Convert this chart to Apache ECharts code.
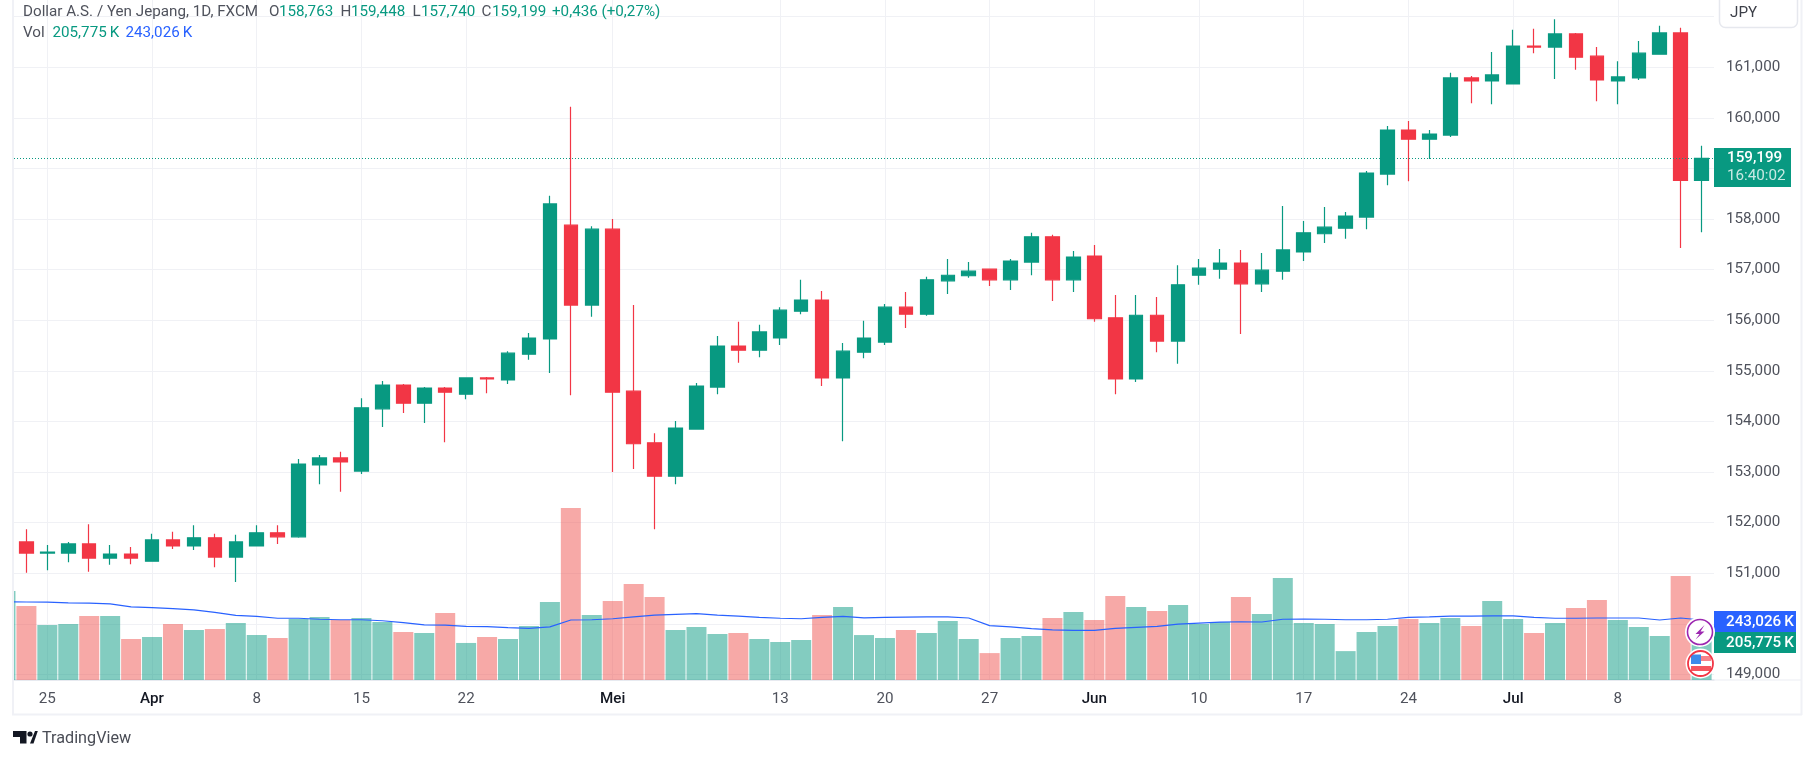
<!DOCTYPE html>
<html><head><meta charset="utf-8">
<style>html,body{margin:0;padding:0;background:#fff}#c{width:1814px;height:759px}</style>
<script src="https://cdn.jsdelivr.net/npm/echarts@6/dist/echarts.min.js"></script>
</head><body><div id="c"></div>
<script>
// [open, close, low, high], one row per trading day (22 Mar - 12 Jul)
const candles = [
[151.62,151.40,151.01,151.87],[151.40,151.42,151.06,151.56],[151.40,151.58,151.22,151.62],[151.58,151.30,151.03,151.97],
[151.30,151.38,151.17,151.56],[151.38,151.30,151.18,151.52],[151.24,151.66,151.24,151.78],[151.66,151.54,151.48,151.82],
[151.54,151.70,151.46,151.95],[151.70,151.32,151.12,151.78],[151.32,151.62,150.83,151.76],[151.54,151.80,151.54,151.95],
[151.80,151.72,151.58,151.95],[151.72,153.16,151.70,153.26],[153.14,153.28,152.76,153.34],[153.28,153.20,152.61,153.40],
[153.02,154.27,152.96,154.46],[154.25,154.72,153.89,154.80],[154.72,154.36,154.17,154.74],[154.36,154.66,153.97,154.68],
[154.66,154.58,153.59,154.68],[154.54,154.86,154.44,154.86],[154.86,154.84,154.56,154.88],[154.82,155.35,154.74,155.39],
[155.33,155.65,155.22,155.75],[155.63,158.30,154.96,158.46],[157.88,156.30,154.52,160.22],[156.30,157.80,156.07,157.86],
[157.80,154.58,153.00,158.00],[154.60,153.56,153.06,156.30],[153.58,152.92,151.87,153.77],[152.92,153.87,152.76,154.01],
[153.85,154.70,153.85,154.76],[154.68,155.49,154.54,155.69],[155.49,155.41,155.16,155.97],[155.41,155.77,155.27,155.91],
[155.65,156.20,155.51,156.26],[156.18,156.40,156.12,156.80],[156.40,154.86,154.70,156.58],[154.86,155.39,153.61,155.55],
[155.37,155.65,155.25,155.99],[155.57,156.26,155.51,156.32],[156.26,156.12,155.85,156.56],[156.12,156.80,156.09,156.86],
[156.78,156.89,156.52,157.21],[156.88,156.97,156.84,157.15],[157.01,156.80,156.68,157.01],[156.80,157.17,156.60,157.21],
[157.15,157.65,156.89,157.73],[157.65,156.80,156.38,157.69],[156.80,157.25,156.56,157.37],[157.27,156.03,155.97,157.49],
[156.05,154.84,154.54,156.50],[154.84,156.10,154.78,156.50],[156.10,155.59,155.37,156.46],[155.59,156.70,155.14,157.09],
[156.89,157.03,156.70,157.21],[157.01,157.13,156.82,157.41],[157.13,156.72,155.73,157.39],[156.72,156.99,156.56,157.33],
[156.97,157.39,156.80,158.26],[157.35,157.73,157.17,157.96],[157.71,157.84,157.53,158.24],[157.82,158.06,157.61,158.14],
[158.04,158.91,157.80,158.95],[158.89,159.76,158.67,159.84],[159.76,159.58,158.75,159.94],[159.58,159.68,159.19,159.76],
[159.66,160.79,159.62,160.89],[160.79,160.73,160.29,160.83],[160.73,160.85,160.27,161.30],[160.67,161.42,160.67,161.74],
[161.42,161.40,161.28,161.76],[161.40,161.66,160.77,161.95],[161.66,161.20,160.95,161.68],[161.22,160.75,160.33,161.40],
[160.73,160.81,160.27,161.12],[160.79,161.28,160.75,161.52],[161.26,161.68,161.26,161.82],[161.68,158.763,157.43,161.78],
[158.763,159.199,157.74,159.448]];
// thousands; the first entry belongs to the day before the first candle, cut by the pane edge
const volumes = [360,300,223,227,259,259,166,174,227,203,207,231,182,170,247,255,243,251,235,194,190,271,150,174,166,219,316,697,263,320,389,336,203,215,186,190,166,154,162,263,296,182,170,203,190,239,166,109,170,178,251,275,243,340,296,279,304,227,235,336,267,413,231,227,117,194,219,247,231,251,219,320,247,190,231,292,324,243,215,178,421,205.775];
const volumeMA = [317,316,315,312,311,308,296,293,289,284,274,262,258,250,250,246,244,244,240,232,223,222,217,216,212,209,215,243,244,248,256,263,266,269,263,259,254,250,248,254,258,252,254,255,256,256,251,220,215,208,203,201,201,209,213,217,226,230,234,236,235,246,247,246,244,244,246,254,256,259,259,260,260,254,250,250,251,251,251,243,251,243.026];
const dateTicks = [1,6,11,16,21,28,36,41,46,51,56,61,66,71,76];
const dateLabels = ['25','Apr','8','15','22','Mei','13','20','27','Jun','10','17','24','Jul','8'];
const monthLabels = ['Apr','Mei','Jun','Jul'];
const priceTicks = [149,150,151,152,153,154,155,156,157,158,159,160,161,162];
const priceLabels = [149,150,151,152,153,154,155,156,157,158,159,160,161];
const lastPrice = 159.199;
const countdown = '16:40:02';
const volumeText = '205,775\u2009K';
const maText = '243,026\u2009K';
const legendRow1 = [['Dollar A.S. / Yen Jepang, 1D, FXCM',23,'g'],['O',269,'g'],['158,763',279,'u'],['H',340.5,'g'],['159,448',351,'u'],['L',412.5,'g'],['157,740',421,'u'],['C',481.5,'g'],['159,199',492,'u'],['+0,436 (+0,27%)',552,'u']];
const legendRow2 = [['Vol',23,'g'],[volumeText,52.5,'u'],[maText,125.5,'b']];

const UP='#089981', DOWN='#F23645', BLUE='#2962FF', GREY='#4f525c', FONT='Roboto', FS=15.2;
const fmt = v => v.toFixed(3).replace('.',',');
const chart = echarts.init(document.getElementById('c'),null,{renderer:'canvas'});
const grid = {left:14,right:100,top:0,bottom:79};

chart.setOption({
  animation:false, backgroundColor:'#fff',
  grid,
  xAxis:{type:'value',min:-0.592,max:80.592,
    axisLine:{lineStyle:{color:'#e0e3eb',width:1.5}},
    axisTick:{show:false,customValues:dateTicks},
    splitLine:{show:true,lineStyle:{color:'#f0f1f5',width:1}},
    axisLabel:{customValues:dateTicks,margin:12,fontFamily:FONT,fontSize:FS,color:GREY,
      formatter:v=>{const s=dateLabels[dateTicks.indexOf(v)];return monthLabels.includes(s)?'{m|'+s+'}':s;},
      rich:{m:{fontFamily:FONT,fontSize:FS,fontWeight:500,color:'#131722'}}}},
  yAxis:[
    {type:'value',position:'right',min:148.891,max:162.33,
     axisLine:{show:false},axisTick:{show:false,customValues:priceTicks},
     splitLine:{show:true,lineStyle:{color:'#f0f1f5',width:1}},
     axisLabel:{customValues:priceLabels,margin:12,fontFamily:FONT,fontSize:FS,color:GREY,
       formatter:v=>fmt(v)}},
    {type:'value',min:0,max:2754,show:false,splitLine:{show:false}}
  ],
  series:[
    {type:'bar',yAxisIndex:1,barWidth:20,z:2,silent:true,
     data:volumes.map((v,i)=>{
       const c=candles[i-1];const up=!c||c[1]>=c[0];
       return {value:[i-1,v],itemStyle:{color:up?'rgba(8,153,129,0.5)':'rgba(239,83,80,0.5)'}};
     })},
    {type:'line',yAxisIndex:1,z:3,showSymbol:false,silent:true,
     lineStyle:{color:BLUE,width:1.2},
     data:volumeMA.map((v,i)=>[i-1,v])},
    {type:'candlestick',z:4,barWidth:14,silent:true,
     itemStyle:{color:UP,color0:DOWN,borderColor:UP,borderColor0:DOWN,borderWidth:1.2},
     data:candles.map((c,i)=>[i,c[0],c[1],c[2],c[3]]),
     markLine:{silent:true,symbol:'none',label:{show:false},animation:false,
       lineStyle:{color:UP,type:[1,2],width:1},
       data:[{yAxis:lastPrice}]}}
  ]
});

const py = chart.convertToPixel({yAxisIndex:0},lastPrice);
const legendText=(row,y)=>row.map(([t,x,k])=>({type:'text',x,y,z:20,style:{text:t,fontFamily:FONT,fontSize:FS,
  fill:k==='g'?GREY:k==='u'?UP:BLUE,verticalAlign:'middle'}}));
const tag=(y0,h,fill)=>({type:'rect',shape:{x:1714,y:y0,width:82,height:h},z:20,style:{fill}});
const label=(t,x,y,fill,w)=>({type:'text',x,y,z:21,style:{text:t,fontFamily:FONT,fontSize:FS,fontWeight:w||400,fill,verticalAlign:'middle'}});

chart.setOption({graphic:{elements:[
  // frame
  {type:'rect',shape:{x:0,y:0,width:12.5,height:759},z:15,style:{fill:'#fff'}},
  {type:'rect',shape:{x:12,y:0,width:2,height:715},z:16,style:{fill:'#f0f1f6'}},
  {type:'rect',shape:{x:12,y:713.5,width:1790,height:2},z:16,style:{fill:'#f0f1f6'}},
  {type:'rect',shape:{x:1800.5,y:0,width:2,height:715},z:16,style:{fill:'#f0f1f6'}},
  {type:'rect',shape:{x:1714,y:679.5,width:87,height:1},z:16,style:{fill:'#eceef3'}},
  // JPY
  {type:'rect',shape:{x:1719.5,y:-10,width:78,height:37.5,r:6},z:16,style:{fill:'#fff',stroke:'#e6e8ee',lineWidth:1.5}},
  {type:'text',x:1730,y:13.5,z:17,style:{text:'JPY',fontFamily:FONT,fontSize:FS,fill:'#3c3f48',verticalAlign:'middle'}},
  // legend
  ...legendText(legendRow1,12),...legendText(legendRow2,33),
  // price tag
  {type:'rect',shape:{x:1714,y:py-10.5,width:77,height:39},z:20,style:{fill:UP}},
  label('159,199',1727,py,'#fff',500),
  label(countdown,1727,py+17.5,'rgba(255,255,255,0.78)'),
  // volume tags
  tag(611,21,BLUE),label(maText,1726,622,'#fff',500),
  tag(632,21,UP),label(volumeText,1726,643,'#fff',500),
  // badges
  {type:'circle',shape:{cx:1700,cy:632,r:15},z:22,style:{fill:'#fff'}},
  {type:'circle',shape:{cx:1700,cy:632,r:12.5},z:23,style:{fill:'#fff',stroke:'#9c27b0',lineWidth:1.6}},
  {type:'polygon',shape:{points:[[1704.5,625],[1695.5,634],[1699.5,634],[1695.5,639.5],[1704.5,631.5],[1700.5,631.5]]},z:24,style:{fill:'#9c27b0'}},
  {type:'circle',shape:{cx:1700.5,cy:663.5,r:15},z:22,style:{fill:'#fff'}},
  {type:'rect',shape:{x:1691,y:656,width:20,height:5},z:23,style:{fill:'#f7838b'}},
  {type:'rect',shape:{x:1691,y:666,width:20,height:5},z:23,style:{fill:'#f5565f'}},
  {type:'rect',shape:{x:1691,y:654.5,width:10,height:9.5},z:24,style:{fill:'#3d8bea'}},
  {type:'circle',shape:{cx:1700.5,cy:663.5,r:12.5},z:25,style:{fill:'none',stroke:'#f23645',lineWidth:1.8}},
  // logo
  {type:'polygon',shape:{points:[[13,731],[26.5,731],[26.5,743.5],[20,743.5],[20,737],[13,737]]},z:20,style:{fill:'#131722'}},
  {type:'circle',shape:{cx:30,cy:734,r:2.6},z:20,style:{fill:'#131722'}},
  {type:'polygon',shape:{points:[[30,743.5],[35,731],[37.8,731],[33.5,743.5]]},z:20,style:{fill:'#131722'}},
  {type:'text',x:42,y:739,z:20,style:{text:'TradingView',fontFamily:FONT,fontSize:16.2,fill:'#4a4d56',verticalAlign:'middle'}}
]}});
</script></body></html>
